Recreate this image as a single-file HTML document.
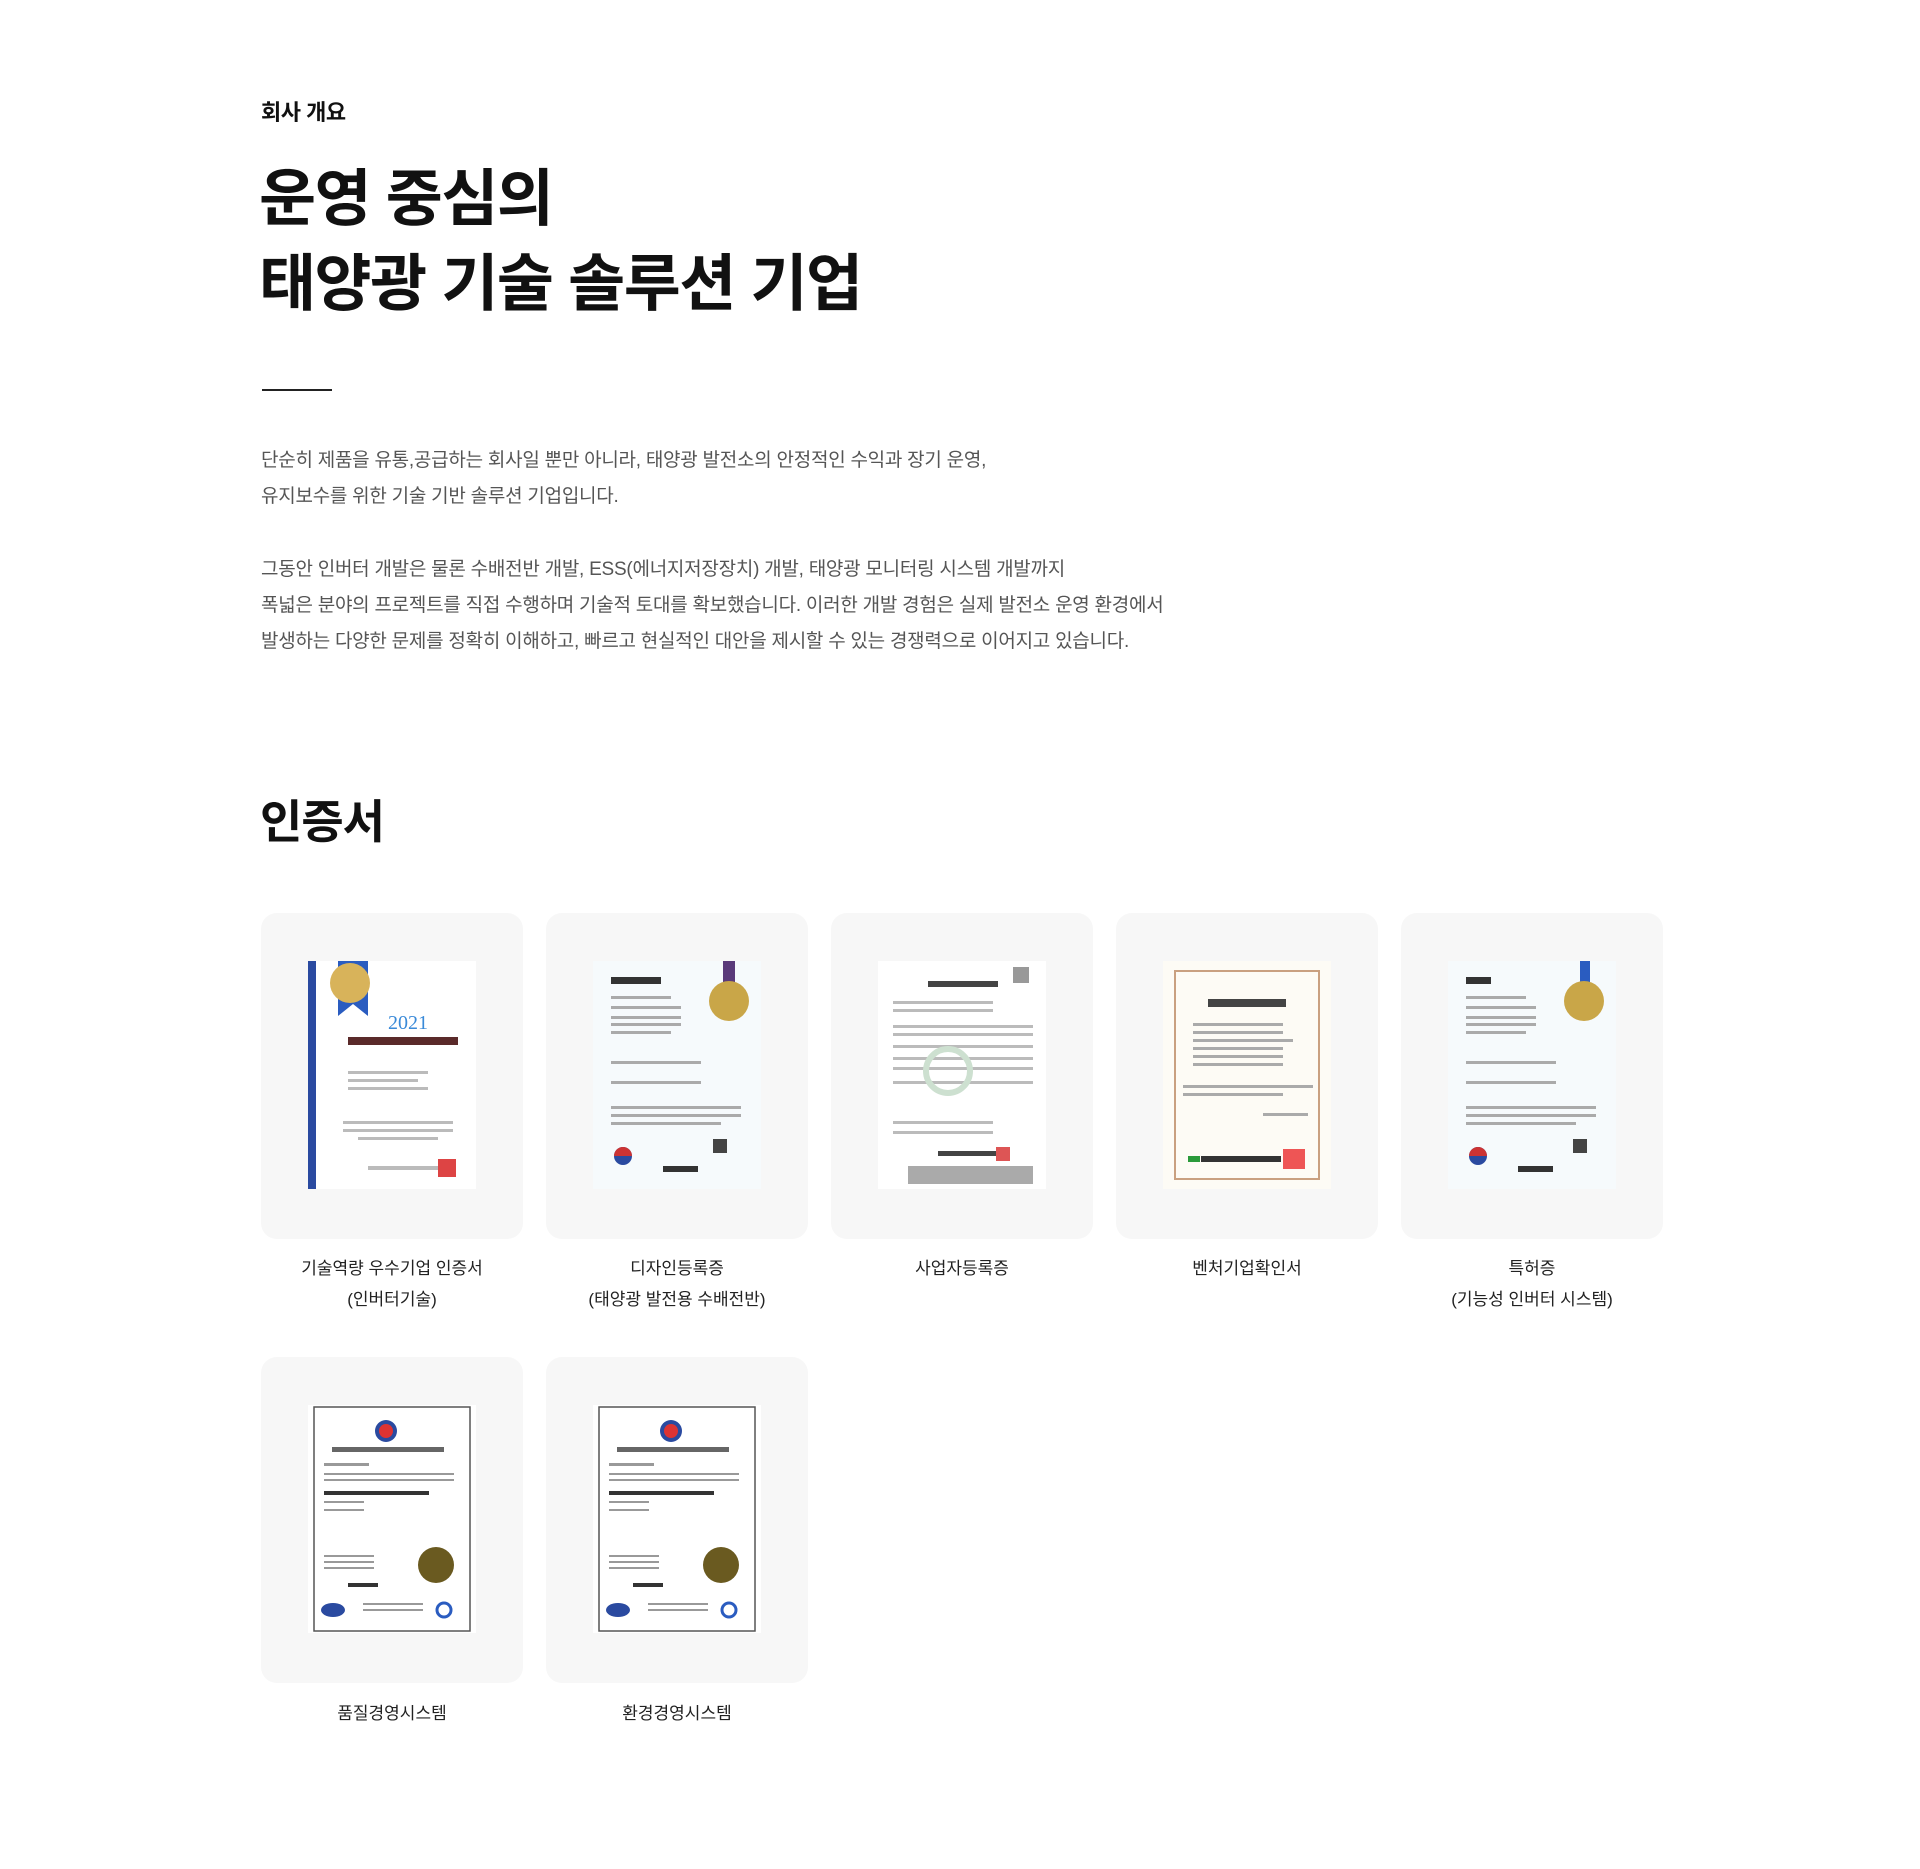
<!DOCTYPE html>
<html lang="ko"><head><meta charset="utf-8">
<style>
*{margin:0;padding:0;box-sizing:border-box}
body{width:1920px;height:1869px;background:#fff;font-family:"Liberation Sans","Noto Sans CJK KR",sans-serif;color:#111;position:relative;overflow:hidden}
.a{position:absolute}
.eyebrow{left:261px;top:95px;font-size:22px;font-weight:700;letter-spacing:-0.5px}
.title{left:259px;top:157px;font-size:62px;font-weight:700;line-height:85px;letter-spacing:-1.5px;color:#111}
.rule{left:262px;top:389px;width:70px;height:2px;background:#222}
.p{left:261px;font-size:19px;line-height:36px;color:#555;letter-spacing:-0.25px}
.h2{left:260px;top:786px;font-size:46px;font-weight:700;letter-spacing:-1px}
.card{width:262px;height:326px;background:#f7f7f7;border-radius:16px}
.card svg{position:absolute;left:47px;top:48px}
.lab{width:262px;text-align:center;font-size:17px;line-height:31px;color:#222}
</style></head><body>
<div class="a eyebrow">회사 개요</div>
<div class="a title">운영 중심의<br>태양광 기술 솔루션 기업</div>
<div class="a rule"></div>
<div class="a p" style="top:443px">단순히 제품을 유통,공급하는 회사일 뿐만 아니라, 태양광 발전소의 안정적인 수익과 장기 운영,<br>유지보수를 위한 기술 기반 솔루션 기업입니다.</div>
<div class="a p" style="top:552px">그동안 인버터 개발은 물론 수배전반 개발, ESS(에너지저장장치) 개발, 태양광 모니터링 시스템 개발까지<br>폭넓은 분야의 프로젝트를 직접 수행하며 기술적 토대를 확보했습니다. 이러한 개발 경험은 실제 발전소 운영 환경에서<br>발생하는 다양한 문제를 정확히 이해하고, 빠르고 현실적인 대안을 제시할 수 있는 경쟁력으로 이어지고 있습니다.</div>
<div class="a h2">인증서</div>

<!-- row 1 -->
<div class="a card" style="left:261px;top:913px"><svg width="168" height="228"><rect width="168" height="228" fill="#fff"/><rect width="8" height="228" fill="#2a4aa0"/><path d="M30 0h30v55l-15-12-15 12z" fill="#2a5cc0"/><circle cx="42" cy="22" r="20" fill="#d8b35a"/><text x="100" y="68" font-size="20" fill="#3a8ad8" text-anchor="middle" font-family="Liberation Serif">2021</text><rect x="40" y="76" width="110" height="8" fill="#5a2a2a"/><g fill="#bbb"><rect x="40" y="110" width="80" height="3"/><rect x="40" y="118" width="70" height="3"/><rect x="40" y="126" width="80" height="3"/><rect x="35" y="160" width="110" height="3"/><rect x="35" y="168" width="110" height="3"/><rect x="50" y="176" width="80" height="3"/><rect x="60" y="205" width="70" height="4"/></g><rect x="130" y="198" width="18" height="18" fill="#d44"/></svg></div>
<div class="a card" style="left:546px;top:913px"><svg width="168" height="228"><rect width="168" height="228" fill="#f6fafc"/><rect x="18" y="16" width="50" height="7" fill="#333"/><rect x="130" y="0" width="12" height="25" fill="#5a3a7a"/><circle cx="136" cy="40" r="20" fill="#c9a648"/><g fill="#aaa"><rect x="18" y="35" width="60" height="3"/><rect x="18" y="45" width="70" height="3"/><rect x="18" y="55" width="70" height="3"/><rect x="18" y="62" width="70" height="3"/><rect x="18" y="70" width="60" height="3"/><rect x="18" y="100" width="90" height="3"/><rect x="18" y="120" width="90" height="3"/><rect x="18" y="145" width="130" height="3"/><rect x="18" y="153" width="130" height="3"/><rect x="18" y="161" width="110" height="3"/></g><circle cx="30" cy="195" r="9" fill="#2a4aa0"/><path d="M21 195a9 9 0 0 1 18 0z" fill="#c33"/><rect x="120" y="178" width="14" height="14" fill="#444"/><rect x="70" y="205" width="35" height="6" fill="#333"/></svg></div>
<div class="a card" style="left:831px;top:913px"><svg width="168" height="228"><rect width="168" height="228" fill="#fff"/><rect x="50" y="20" width="70" height="6" fill="#444"/><rect x="135" y="6" width="16" height="16" fill="#999"/><g fill="#bbb"><rect x="15" y="40" width="100" height="3"/><rect x="15" y="48" width="100" height="3"/><rect x="15" y="64" width="140" height="3"/><rect x="15" y="72" width="140" height="3"/><rect x="15" y="84" width="140" height="3"/><rect x="15" y="96" width="140" height="3"/><rect x="15" y="106" width="140" height="3"/><rect x="15" y="120" width="140" height="3"/><rect x="15" y="160" width="100" height="3"/><rect x="15" y="170" width="100" height="3"/></g><circle cx="70" cy="110" r="22" fill="none" stroke="#cde0d0" stroke-width="6"/><rect x="60" y="190" width="60" height="5" fill="#444"/><rect x="118" y="186" width="14" height="14" fill="#d55"/><rect x="30" y="205" width="125" height="18" fill="#aaa"/></svg></div>
<div class="a card" style="left:1116px;top:913px"><svg width="168" height="228"><rect width="168" height="228" fill="#fdfbf5"/><rect x="12" y="10" width="144" height="208" fill="none" stroke="#c9a080" stroke-width="2"/><rect x="45" y="38" width="78" height="8" fill="#444"/><g fill="#aaa"><rect x="30" y="62" width="90" height="3"/><rect x="30" y="70" width="90" height="3"/><rect x="30" y="78" width="100" height="3"/><rect x="30" y="86" width="90" height="3"/><rect x="30" y="94" width="90" height="3"/><rect x="30" y="102" width="90" height="3"/><rect x="20" y="124" width="130" height="3"/><rect x="20" y="132" width="100" height="3"/><rect x="100" y="152" width="45" height="3"/></g><rect x="25" y="195" width="12" height="6" fill="#2a9a3a"/><rect x="38" y="195" width="80" height="6" fill="#333"/><rect x="120" y="188" width="22" height="20" fill="#e55"/></svg></div>
<div class="a card" style="left:1401px;top:913px"><svg width="168" height="228"><rect width="168" height="228" fill="#f6fafc"/><rect x="18" y="16" width="25" height="7" fill="#333"/><rect x="132" y="0" width="10" height="25" fill="#2a5cc0"/><circle cx="136" cy="40" r="20" fill="#c9a648"/><g fill="#aaa"><rect x="18" y="35" width="60" height="3"/><rect x="18" y="45" width="70" height="3"/><rect x="18" y="55" width="70" height="3"/><rect x="18" y="62" width="70" height="3"/><rect x="18" y="70" width="60" height="3"/><rect x="18" y="100" width="90" height="3"/><rect x="18" y="120" width="90" height="3"/><rect x="18" y="145" width="130" height="3"/><rect x="18" y="153" width="130" height="3"/><rect x="18" y="161" width="110" height="3"/></g><circle cx="30" cy="195" r="9" fill="#2a4aa0"/><path d="M21 195a9 9 0 0 1 18 0z" fill="#c33"/><rect x="125" y="178" width="14" height="14" fill="#444"/><rect x="70" y="205" width="35" height="6" fill="#333"/></svg></div>
<div class="a lab" style="left:261px;top:1253px">기술역량 우수기업 인증서<br>(인버터기술)</div>
<div class="a lab" style="left:546px;top:1253px">디자인등록증<br>(태양광 발전용 수배전반)</div>
<div class="a lab" style="left:831px;top:1253px">사업자등록증</div>
<div class="a lab" style="left:1116px;top:1253px">벤처기업확인서</div>
<div class="a lab" style="left:1401px;top:1253px">특허증<br>(기능성 인버터 시스템)</div>

<!-- row 2 -->
<div class="a card" style="left:261px;top:1357px"><svg width="168" height="228"><rect width="168" height="228" fill="#fff"/><rect x="6" y="2" width="156" height="224" fill="none" stroke="#555" stroke-width="1.5"/><circle cx="78" cy="26" r="11" fill="#2a4aa0"/><circle cx="78" cy="26" r="7" fill="#d33"/><rect x="24" y="42" width="112" height="5" fill="#666"/><g fill="#999"><rect x="16" y="58" width="45" height="3"/><rect x="16" y="68" width="130" height="2"/><rect x="16" y="74" width="130" height="2"/><rect x="16" y="86" width="105" height="4" fill="#333"/><rect x="16" y="96" width="40" height="2"/><rect x="16" y="104" width="40" height="2"/><rect x="16" y="150" width="50" height="2"/><rect x="16" y="156" width="50" height="2"/><rect x="16" y="162" width="50" height="2"/><rect x="40" y="178" width="30" height="4" fill="#333"/><rect x="55" y="198" width="60" height="2"/><rect x="55" y="204" width="60" height="2"/></g><circle cx="128" cy="160" r="18" fill="#6a5a20"/><ellipse cx="25" cy="205" rx="12" ry="7" fill="#2a4aa0"/><circle cx="136" cy="205" r="7" fill="none" stroke="#2a5cc0" stroke-width="3"/></svg></div>
<div class="a card" style="left:546px;top:1357px"><svg width="168" height="228"><rect width="168" height="228" fill="#fff"/><rect x="6" y="2" width="156" height="224" fill="none" stroke="#555" stroke-width="1.5"/><circle cx="78" cy="26" r="11" fill="#2a4aa0"/><circle cx="78" cy="26" r="7" fill="#d33"/><rect x="24" y="42" width="112" height="5" fill="#666"/><g fill="#999"><rect x="16" y="58" width="45" height="3"/><rect x="16" y="68" width="130" height="2"/><rect x="16" y="74" width="130" height="2"/><rect x="16" y="86" width="105" height="4" fill="#333"/><rect x="16" y="96" width="40" height="2"/><rect x="16" y="104" width="40" height="2"/><rect x="16" y="150" width="50" height="2"/><rect x="16" y="156" width="50" height="2"/><rect x="16" y="162" width="50" height="2"/><rect x="40" y="178" width="30" height="4" fill="#333"/><rect x="55" y="198" width="60" height="2"/><rect x="55" y="204" width="60" height="2"/></g><circle cx="128" cy="160" r="18" fill="#6a5a20"/><ellipse cx="25" cy="205" rx="12" ry="7" fill="#2a4aa0"/><circle cx="136" cy="205" r="7" fill="none" stroke="#2a5cc0" stroke-width="3"/></svg></div>
<div class="a lab" style="left:261px;top:1698px">품질경영시스템</div>
<div class="a lab" style="left:546px;top:1698px">환경경영시스템</div>
</body></html>
